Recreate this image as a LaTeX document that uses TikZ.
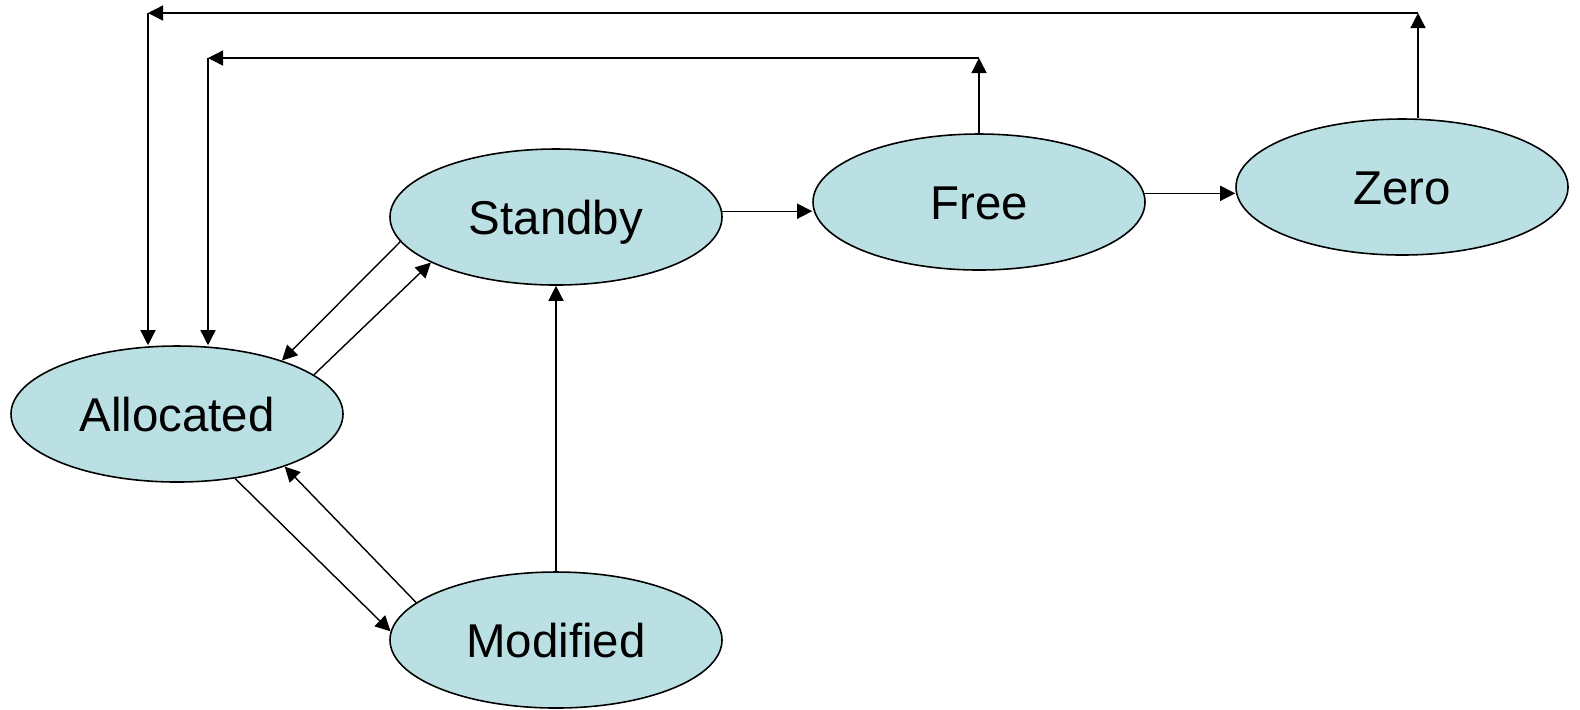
\documentclass[tikz,border=0pt]{standalone}
\usepackage{fontspec}
\setmainfont{Liberation Sans}
\usetikzlibrary{shapes.geometric,arrows.meta}
\definecolor{pageblue}{RGB}{187,224,227}

\begin{document}
\begin{tikzpicture}[
  state/.style = {ellipse, draw, fill=pageblue, line width=0.45pt,
    minimum width=3.32cm, minimum height=1.36cm, inner sep=0pt,
    text height=9.9pt, text depth=0pt,
    font=\fontsize{13.5}{16}\selectfont},
  every path/.style = {line width=0.4pt},
  >={Triangle[length=4.3pt,width=4.3pt]}]
\useasboundingbox (0,0) rectangle (15.8,-7.09);
\node [state] (standby) at (5.56,-2.17) {Standby};
\node [state] (free) at (9.79,-2.02) {Free};
\node [state] (zero) at (14.02,-1.87) {Zero};
\node [state] (alloc) at (1.77,-4.14) {Allocated};
\node [state] (modified) at (5.56,-6.40) {Modified};
%corners of the two long return paths
\coordinate (zup) at (14.18,-0.13);
\coordinate (zleft) at (1.48,-0.13);
\coordinate (fup) at (9.79,-0.58);
\coordinate (fleft) at (2.08,-0.58);
\draw [->] (standby.2) -- (standby.2 -| free.west);
\draw [->] (free.3) -- (free.3 -| zero.west);
\draw [->] (zero.north -| zup) -- (zup);
\draw [->] (zup) -- (zleft);
\draw [->] (zleft) -- (zleft |- alloc.north);
\draw [->] (free.north) -- (fup);
\draw [->] (fup) -- (fleft);
\draw [->] (fleft) -- (fleft |- alloc.north);
\draw [->] (standby.189) -- (alloc.27);
\draw [->] (alloc.16) -- (standby.200);
\draw [->] (alloc.312) -- (modified.177);
\draw [->] (modified.165) -- (alloc.334);
\draw [->] (modified.north) -- (standby.south);
\end{tikzpicture}
\end{document}
